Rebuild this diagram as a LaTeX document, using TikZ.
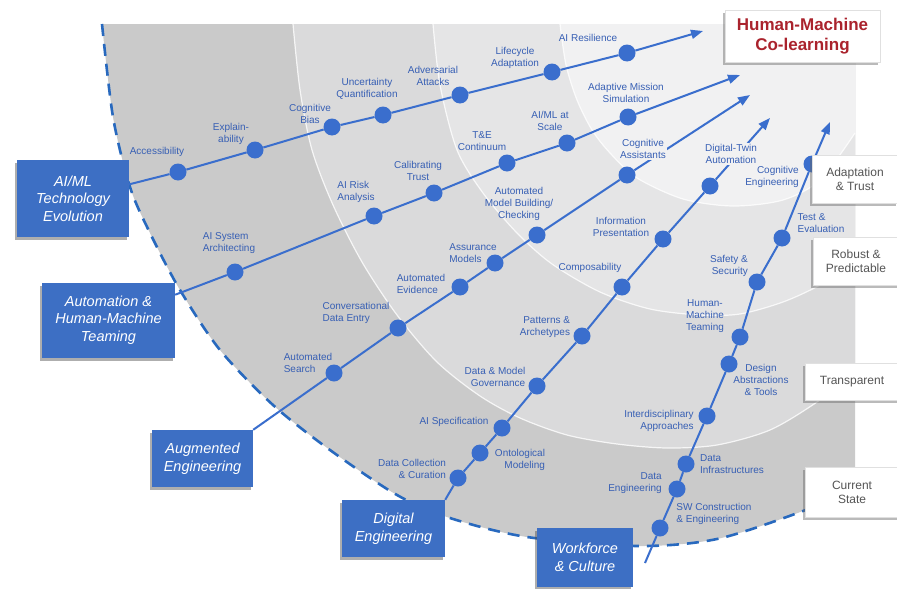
\documentclass[tikz,border=0pt]{standalone}
\usepackage{fontspec}
\setmainfont{Liberation Sans}
\usetikzlibrary{arrows.meta, shadows}
\definecolor{boxblue}{RGB}{61, 111, 196}
\definecolor{dotblue}{RGB}{58, 110, 205}
\definecolor{lblblue}{RGB}{55, 95, 180}
\definecolor{rimblue}{RGB}{40, 105, 190}
\definecolor{bandone}{RGB}{202, 202, 202}
\definecolor{bandtwo}{RGB}{218, 218, 219}
\definecolor{bandthree}{RGB}{229, 229, 230}
\definecolor{bandfour}{RGB}{241, 241, 242}
\definecolor{levelgray}{RGB}{85, 85, 85}
\definecolor{colearnred}{RGB}{170, 35, 45}

\begin{document}
\begin{tikzpicture}[x=1pt, y=-1pt,
  trackbox/.style={fill=boxblue, text=white, inner sep=0pt, align=center,
    font=\fontsize{14.5}{17.5}\selectfont\itshape,
    drop shadow={shadow xshift=-2pt, shadow yshift=-3pt, opacity=0.45, fill=black!70}},
  levelbox/.style={fill=white, draw=black!12, text=levelgray, inner sep=0pt, align=center,
    font=\fontsize{12}{14}\selectfont,
    drop shadow={shadow xshift=-2pt, shadow yshift=-3pt, opacity=0.45, fill=black!60}},
  milestone/.style={circle, fill=dotblue, minimum size=17pt, inner sep=0pt},
  mslabel/.style={text=lblblue, font=\fontsize{10}{12}\selectfont, align=center, inner sep=1pt},
  track/.style={draw=dotblue, line width=2pt},
  tip/.style={-{Triangle[length=12pt, width=9pt]}},
  rimlight/.style={draw=white, line width=1.2pt, opacity=0.8},
  rimdash/.style={draw=rimblue, line width=2.6pt, dash pattern=on 12pt off 8pt}]
\useasboundingbox (0,0) rectangle (897,589);
\fill[white] (0,0) rectangle (897,589);

% ===== Background bands =====
\fill[bandone] plot[smooth] coordinates {(102,24) (113,117) (130,187) (150,233) (180,290) (220,350) (273,405) (330,450) (397,495) (450,518) (527,537) (637,546) (717,539) (803,511) (855,488)} -- (855,24) -- cycle;
\fill[bandtwo] plot[smooth] coordinates {(293,24) (300,90) (312,150) (333,205) (362,262) (397,315) (437,362) (480,396) (520,418) (567,435) (617,444) (667,448) (717,445) (770,430) (817,402) (855,372)} -- (855,24) -- cycle;
\fill[bandthree] plot[smooth] coordinates {(433,24) (440,85) (457,150) (483,193) (517,233) (552,264) (600,292) (650,309) (700,315) (740,314) (783,302) (820,285) (855,262)} -- (855,24) -- cycle;
\fill[bandfour] plot[smooth] coordinates {(560,24) (566,65) (577,100) (592,130) (610,153) (637,178) (683,199) (733,206) (783,200) (820,180) (855,133)} -- (855,24) -- cycle;

% Rims
\draw[rimlight] plot[smooth] coordinates {(293,24) (300,90) (312,150) (333,205) (362,262) (397,315) (437,362) (480,396) (520,418) (567,435) (617,444) (667,448) (717,445) (770,430) (817,402) (855,372)};
\draw[rimlight] plot[smooth] coordinates {(433,24) (440,85) (457,150) (483,193) (517,233) (552,264) (600,292) (650,309) (700,315) (740,314) (783,302) (820,285) (855,262)};
\draw[rimlight] plot[smooth] coordinates {(560,24) (566,65) (577,100) (592,130) (610,153) (637,178) (683,199) (733,206) (783,200) (820,180) (855,133)};
\draw[rimdash] plot[smooth] coordinates {(102,24) (113,117) (130,187) (150,233) (180,290) (220,350) (273,405) (330,450) (397,495) (450,518) (527,537) (637,546) (717,539) (803,511) (855,488)};

% ===== Track boxes =====
\node[trackbox, minimum width=112pt, minimum height=77pt] (aiml) at (73,198.5) {AI/ML\\Technology\\Evolution};
\node[trackbox, minimum width=133pt, minimum height=75pt] (auto) at (108.5,320) {Automation \&\\Human-Machine\\Teaming};
\node[trackbox, minimum width=101pt, minimum height=57pt] (aug) at (202.5,458.5) {Augmented\\Engineering};
\node[trackbox, minimum width=103pt, minimum height=57pt] (digi) at (393.5,528.5) {Digital\\Engineering};
\node[trackbox, minimum width=96pt, minimum height=59pt] (work) at (585,557.5) {Workforce\\\& Culture};

% Tips
\coordinate (aimltip) at (703,31);
\coordinate (autotip) at (740,75);
\coordinate (augtip) at (750,95);
\coordinate (digitip) at (770,118);
\coordinate (workstart) at (645,563);
\coordinate (worktip) at (830,122);

% ===== AI/ML Technology Evolution =====
\node[milestone] (a1) at (178,172) {};
\node[milestone] (a2) at (255,150) {};
\node[milestone] (a3) at (332,127) {};
\node[milestone] (a4) at (383,115) {};
\node[milestone] (a5) at (460,95) {};
\node[milestone] (a6) at (552,72) {};
\node[milestone] (a7) at (627,53) {};
\draw[track] (aiml) -- (a1) -- (a2) -- (a3) -- (a4) -- (a5) -- (a6) -- (a7);
\draw[track, tip] (a7) -- (aimltip);
\node[mslabel] (la1) at (157,152) {Accessibility};
\node[mslabel] (la2) at (231,134) {Explain-\\ability};
\node[mslabel] (la3) at (310,114) {Cognitive\\Bias};
\node[mslabel] (la4) at (367,89) {Uncertainty\\Quantification};
\node[mslabel] (la5) at (433,76) {Adversarial\\Attacks};
\node[mslabel] (la6) at (515,58) {Lifecycle\\Adaptation};
\node[mslabel] (la7) at (588,38) {AI Resilience};

% ===== Automation & Human-Machine Teaming =====
\node[milestone] (b1) at (235,272) {};
\node[milestone] (b2) at (374,216) {};
\node[milestone] (b3) at (434,193) {};
\node[milestone] (b4) at (507,163) {};
\node[milestone] (b5) at (567,143) {};
\node[milestone] (b6) at (628,117) {};
\draw[track] (auto) -- (b1) -- (b2) -- (b3) -- (b4) -- (b5) -- (b6);
\draw[track, tip] (b6) -- (autotip);
\node[mslabel, align=left] (lb1) at (229,243) {AI System\\Architecting};
\node[mslabel, align=left] (lb2) at (356,192) {AI Risk\\Analysis};
\node[mslabel] (lb3) at (418,171) {Calibrating\\Trust};
\node[mslabel] (lb4) at (482,141) {T\&E\\Continuum};
\node[mslabel] (lb5) at (550,121) {AI/ML at\\Scale};
\node[mslabel] (lb6) at (626,93) {Adaptive Mission\\Simulation};

% ===== Augmented Engineering =====
\node[milestone] (c1) at (334,373) {};
\node[milestone] (c2) at (398,328) {};
\node[milestone] (c3) at (460,287) {};
\node[milestone] (c4) at (495,263) {};
\node[milestone] (c5) at (537,235) {};
\node[milestone] (c6) at (627,175) {};
\draw[track] (aug.north east) -- (c1) -- (c2) -- (c3) -- (c4) -- (c5) -- (c6);
\draw[track, tip] (c6) -- (augtip);
\node[mslabel, align=left] (lc1) at (308,363) {Automated\\Search};
\node[mslabel, align=left] (lc2) at (356,313) {Conversational\\Data Entry};
\node[mslabel, align=left] (lc3) at (421,284) {Automated\\Evidence};
\node[mslabel, align=left] (lc4) at (473,253) {Assurance\\Models};
\node[mslabel] (lc5) at (519,204) {Automated\\Model Building/\\Checking};
\node[mslabel, fill=bandfour] (lc6) at (643,149) {Cognitive\\Assistants};

% ===== Digital Engineering =====
\node[milestone] (d1) at (458,478) {};
\node[milestone] (d2) at (480,453) {};
\node[milestone] (d3) at (502,428) {};
\node[milestone] (d4) at (537,386) {};
\node[milestone] (d5) at (582,336) {};
\node[milestone] (d6) at (622,287) {};
\node[milestone] (d7) at (663,239) {};
\node[milestone] (d8) at (710,186) {};
\draw[track] (digi.north east) -- (d1) -- (d2) -- (d3) -- (d4) -- (d5) -- (d6) -- (d7) -- (d8);
\draw[track, tip] (d8) -- (digitip);
\node[mslabel, align=right] (ld1) at (412,469) {Data Collection\\\& Curation};
\node[mslabel, align=right] (ld2) at (520,460) {Ontological\\Modeling};
\node[mslabel] (ld3) at (454,422) {AI Specification};
\node[mslabel, align=right] (ld4) at (495,377) {Data \& Model\\Governance};
\node[mslabel, align=right] (ld5) at (545,327) {Patterns \&\\Archetypes};
\node[mslabel] (ld6) at (590,268) {Composability};
\node[mslabel] (ld7) at (621,227) {Information\\Presentation};
\node[mslabel, fill=bandfour] (ld8) at (731,154) {Digital-Twin\\Automation};

% ===== Workforce & Culture =====
\node[milestone] (e1) at (660,528) {};
\node[milestone] (e2) at (677,489) {};
\node[milestone] (e3) at (686,464) {};
\node[milestone] (e4) at (707,416) {};
\node[milestone] (e5) at (729,364) {};
\node[milestone] (e6) at (740,337) {};
\node[milestone] (e7) at (757,282) {};
\node[milestone] (e8) at (782,238) {};
\node[milestone] (e9) at (812,164) {};
\draw[track] (workstart) -- (e1) -- (e2) -- (e3) -- (e4) -- (e5) -- (e6) -- (e7) -- (e8) -- (e9);
\draw[track, tip] (e9) -- (worktip);
\node[mslabel, align=left] (le1) at (714,514) {SW Construction\\\& Engineering};
\node[mslabel, align=right] (le2) at (635,483) {Data\\Engineering};
\node[mslabel, align=left] (le3) at (732,464) {Data\\Infrastructures};
\node[mslabel, align=right] (le4) at (659,421) {Interdisciplinary\\Approaches};
\node[mslabel] (le5) at (761,380) {Design\\Abstractions\\\& Tools};
\node[mslabel] (le6) at (705,316) {Human-\\Machine\\Teaming};
\node[mslabel, align=right] (le7) at (729,266) {Safety \&\\Security};
\node[mslabel, align=left] (le8) at (821,223) {Test \&\\Evaluation};
\node[mslabel, align=right] (le9) at (772,177) {Cognitive\\Engineering};

% ===== Maturity levels =====
\node[levelbox, minimum width=86pt, minimum height=48pt] (adapt) at (855,179) {Adaptation\\\& Trust};
\node[levelbox, minimum width=86pt, minimum height=48pt] (robust) at (856,261) {Robust \&\\Predictable};
\node[levelbox, minimum width=94pt, minimum height=37pt] (transp) at (852,381.5) {Transparent};
\node[levelbox, minimum width=94pt, minimum height=50pt] (current) at (852,492) {Current\\State};
\node[levelbox, minimum width=155pt, minimum height=52pt, text=colearnred,
  font=\fontsize{17}{20}\selectfont\bfseries] (colearn) at (802.5,36) {Human-Machine\\Co-learning};
\end{tikzpicture}
\end{document}
